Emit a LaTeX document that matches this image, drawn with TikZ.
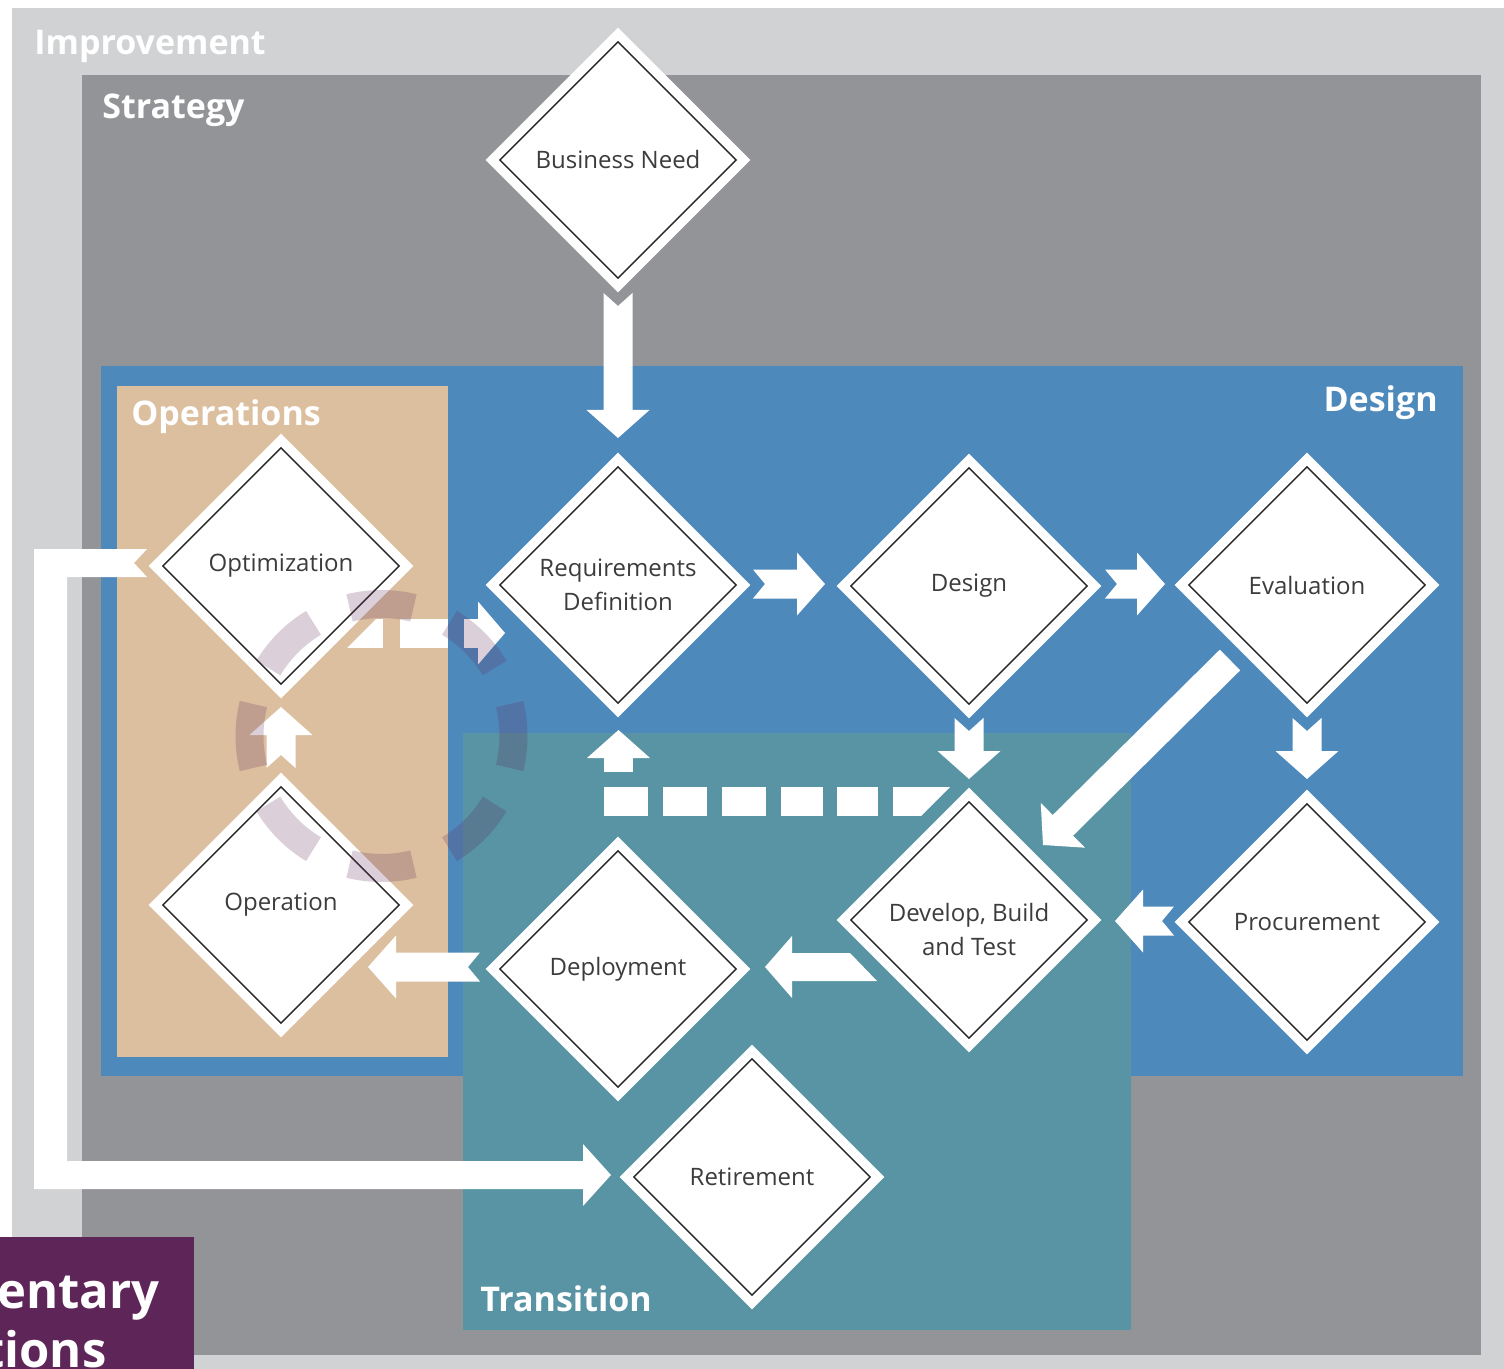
\documentclass[tikz,border=0pt]{standalone}
\usepackage{fontspec}
\setmainfont{Open Sans}
\usetikzlibrary{shapes.geometric,calc}
\definecolor{impr}{HTML}{D1D2D4}
\definecolor{strat}{HTML}{939498}
\definecolor{desb}{HTML}{4E89BC}
\definecolor{opst}{HTML}{DBBF9F}
\definecolor{trans}{HTML}{5894A3}
\definecolor{purp}{HTML}{5E2558}
\definecolor{txt}{HTML}{3C3C3C}
\tikzset{
  dia/.style={diamond, aspect=1, minimum width=118.5pt, minimum height=118.5pt,
    inner sep=0pt, fill=white, draw=black!85, line width=0.7pt,
    preaction={draw=white, line width=10pt},
    text=txt, font=\fontsize{12}{17}\selectfont, align=center},
  lbl/.style={text=white, font=\bfseries\fontsize{17}{20}\selectfont, inner sep=0pt},
  bigl/.style={text=white, font=\bfseries\fontsize{24.5}{28}\selectfont, inner sep=0pt},
  ringseg/.style={draw=purp, draw opacity=0.22, line width=14pt},
  wline/.style={draw=white, line width=14.5pt},
}
% block arrow from tail #1 to tip #2; #3 = notch depth (0pt for a flat tail)
\newcommand\blockarrow[3]{%
  \coordinate (ac) at ($(#2)!14pt!(#1)$);
  \fill[white]
  ($(#1)!7.25pt!90:(#2)$)
  -- ($(ac)!7.25pt!90:(#2)$)
  -- ($(ac)!15.75pt!90:(#2)$)
  -- (#2)
  -- ($(ac)!15.75pt!-90:(#2)$)
  -- ($(ac)!7.25pt!-90:(#2)$)
  -- ($(#1)!7.25pt!-90:(#2)$)
  -- ($(#1)!#3!(#2)$) -- cycle;}
\begin{document}
\begin{tikzpicture}[x=0.5pt,y=-0.5pt]
\useasboundingbox (0,0) rectangle (1504,1369);
\fill[white] (0,0) rectangle (1504,1369);
% regions
\fill[impr] (12,8) rectangle (1504,1369);
\fill[strat] (82,75) rectangle (1481,1355);
\fill[desb] (101,366) rectangle (1463,1076);
\fill[opst] (117,386) rectangle (448,1057);
\fill[trans] (463,733) rectangle (1131,1330);
\fill[purp] (0,1237) rectangle (194,1369);
\begin{scope}
  \clip (0,1237) rectangle (194,1369);
  \node[bigl, anchor=base west] (pl1) at (-3,1308) {entary};
  \node[bigl, anchor=base west] (pl2) at (-17,1367) {tions};
\end{scope}
% region labels
\node[lbl, anchor=base west] (limp) at (34,55) {Improvement};
\node[lbl, anchor=base west] (lstr) at (102,119) {Strategy};
\node[lbl, anchor=base west] (lops) at (131,425) {Operations};
\node[lbl, anchor=base east] (ldes) at (1438,412) {Design};
\node[lbl, anchor=base west] (ltra) at (480,1311) {Transition};
% diamonds
\node[dia] (bn)  at (618,160)  {Business Need};
\node[dia] (req) at (618,585)  {Requirements\\Definition};
\node[dia] (des) at (969,586)  {Design};
\node[dia] (eva) at (1307,585) {Evaluation};
\node[dia] (opt) at (281,566)  {Optimization};
\node[dia] (ope) at (281,905)  {Operation};
\node[dia] (dev) at (969,920)  {};
\node[txt, font=\fontsize{12}{17}\selectfont, align=center] (devt) at (969,929) {Develop, Build\\and Test};
\node[dia] (pro) at (1307,922) {Procurement};
\node[dia] (dep) at (618,969)  {Deployment};
\node[dia] (ret) at (752,1177) {Retirement};
% arrow end points
\coordinate (t1) at ($(bn)+(0,133)$);   \coordinate (h1) at ($(req)+(0,-147)$);
\coordinate (t2) at ($(req)+(135,-1)$); \coordinate (h2) at ($(des)+(-144,-2)$);
\coordinate (t3) at ($(des)+(136,-2)$); \coordinate (h3) at ($(eva)+(-142,-1)$);
\coordinate (t4) at ($(des)+(0,132)$);  \coordinate (h4) at ($(dev)+(0,-141)$);
\coordinate (t5) at ($(eva)+(0,133)$);  \coordinate (h5) at ($(pro)+(0,-143)$);
\coordinate (t6) at ($(pro)+(-133,-1)$); \coordinate (h6) at ($(dev)+(146,1)$);
\coordinate (h7) at ($(dep)+(147,-2)$);
\coordinate (t8) at ($(dep)+(-138,-2)$); \coordinate (h8) at ($(ope)+(87,62)$);
\coordinate (t9) at ($(ope)+(0,-137)$); \coordinate (h9) at ($(opt)+(0,141)$);
\coordinate (t10) at ($(eva)+(-77,75)$); \coordinate (h10) at ($(dev)+(74,-75)$);
\coordinate (h11) at ($(req)+(0.5,145)$); \coordinate (k11) at ($(req)+(0.5,216)$);
\coordinate (s11) at ($(dev)+(0,-119)$);
\coordinate (s12) at ($(opt)+(54,67)$); \coordinate (k12) at ($(req)+(-140,48)$);
\coordinate (h12) at ($(req)+(-113,48)$);
\coordinate (l0) at ($(opt)+(-134,-3)$); \coordinate (l1) at ($(ret)+(-141,-2)$);
% block arrows
\blockarrow{t1}{h1}{6.5pt}
\blockarrow{t2}{h2}{6pt}
\blockarrow{t3}{h3}{6pt}
\blockarrow{t4}{h4}{6.5pt}
\blockarrow{t5}{h5}{6.5pt}
\blockarrow{t6}{h6}{6pt}
\blockarrow{t8}{h8}{6pt}
\blockarrow{t9}{h9}{6.5pt}
\blockarrow{t10}{h10}{0pt}
% Develop -> Deployment (slanted tail)
\fill[white] (h7) -- ++(27,-31) -- ++(0,17) -- ++(58,0) -- ++(27,28) -- ++(-85,0) -- ++(0,17) -- cycle;
% dashed Develop -> Requirements
\begin{scope}
  \clip (0,0) -- (1737,0) -- (0,1737) -- cycle;
  \draw[wline, dash pattern=on 7pt off 7.5pt on 21.5pt off 7.5pt on 22pt off 7.5pt on 22pt off 7.5pt on 21pt off 7pt on 20.5pt off 7.5pt on 40pt]
    ($(h11)+(0,28)$) -- (k11) -- (s11);
\end{scope}
\fill[white] (h11) -- ++(31.5,28) -- ++(-63,0) -- cycle;
% dashed Optimization -> Requirements
\begin{scope}
  \clip (995,0) -- (1504,0) -- (1504,1369) -- (0,1369) -- (0,995) -- cycle;
  \draw[wline, dash pattern=on 24pt off 8.5pt on 24pt off 8pt on 7.5pt]
    (s12) -- (k12);
\end{scope}
\fill[white] (h12) -- ++(-27,-31.5) -- ++(0,63) -- cycle;
% L-shaped arrow Optimization -> Retirement
\fill[white] ($(l0)+(0,-14)$) -- (34,549) -- (34,1189) -- ($(l1)+(-28,14)$) -- ($(l1)+(-28,31)$)
  -- (l1) -- ($(l1)+(-28,-31)$) -- ($(l1)+(-28,-14)$) -- (67,1161) -- (67,577)
  -- ($(l0)+(0,14)$) -- ($(l0)+(-13,0)$) -- cycle;
% dashed cycle ring
\coordinate (rc) at (381.5,736);
\foreach \a in {0,45,...,315}
  \draw[ringseg] ($(rc)+(\a-14:132)$) arc[start angle=\a-14, end angle=\a+14, radius=132];
\end{tikzpicture}
\end{document}
